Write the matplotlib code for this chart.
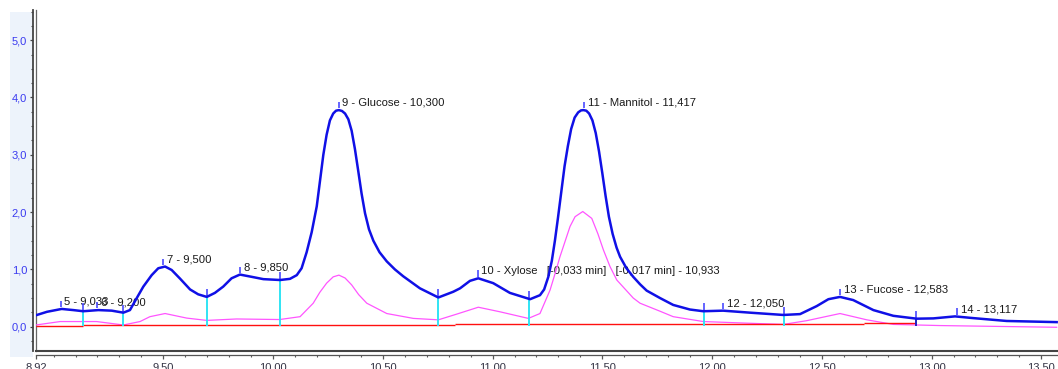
import matplotlib
matplotlib.use('Agg')
import matplotlib.pyplot as plt
import numpy as np
from matplotlib.ticker import FixedLocator, MultipleLocator, FuncFormatter
from matplotlib.patches import Rectangle

# main detector trace (blue)
blue_t = [8.92, 8.97, 9.037, 9.09, 9.135, 9.204, 9.265, 9.318, 9.348, 9.379,
          9.409, 9.447, 9.477, 9.508, 9.538, 9.576, 9.622, 9.659, 9.698, 9.735,
          9.773, 9.811, 9.849, 9.903, 9.956, 10.032, 10.077, 10.108, 10.13, 10.153,
          10.176, 10.199, 10.214, 10.229, 10.244, 10.259, 10.274, 10.287, 10.300, 10.314,
          10.328, 10.343, 10.358, 10.373, 10.388, 10.403, 10.419, 10.437, 10.457, 10.485,
          10.518, 10.555, 10.593, 10.669, 10.753, 10.821, 10.852, 10.897, 10.935, 11.003,
          11.079, 11.171, 11.216, 11.235, 11.254, 11.270, 11.284, 11.298, 11.313, 11.328,
          11.343, 11.358, 11.374, 11.390, 11.403, 11.414, 11.427, 11.440, 11.455, 11.470,
          11.485, 11.500, 11.515, 11.530, 11.547, 11.565, 11.581, 11.61, 11.641, 11.672,
          11.702, 11.763, 11.823, 11.899,
          11.96, 12.05, 12.173, 12.325, 12.401, 12.477, 12.53, 12.583, 12.643, 12.735,
          12.826, 12.932, 13.008, 13.107, 13.19, 13.342, 13.57]
blue_v = [0.20, 0.26, 0.31, 0.29, 0.27, 0.29, 0.28, 0.245, 0.29, 0.50,
          0.70, 0.90, 1.02, 1.05, 0.99, 0.84, 0.65, 0.565, 0.52, 0.59,
          0.70, 0.845, 0.91, 0.87, 0.83, 0.815, 0.835, 0.90, 1.02, 1.30,
          1.65, 2.10, 2.55, 3.00, 3.35, 3.60, 3.72, 3.77, 3.78, 3.765,
          3.72, 3.62, 3.42, 3.10, 2.72, 2.33, 1.98, 1.70, 1.50, 1.30,
          1.14, 1.00, 0.88, 0.67, 0.51, 0.61, 0.67, 0.80, 0.845, 0.76,
          0.59, 0.48, 0.55, 0.65, 0.87, 1.15, 1.50, 1.90, 2.35, 2.80,
          3.15, 3.45, 3.65, 3.74, 3.775, 3.78, 3.77, 3.72, 3.60, 3.38,
          3.06, 2.68, 2.28, 1.92, 1.62, 1.38, 1.22, 1.02, 0.87, 0.74,
          0.63, 0.50, 0.38, 0.30,
          0.27, 0.28, 0.245, 0.205, 0.22, 0.36, 0.48, 0.52, 0.465, 0.29,
          0.19, 0.14, 0.145, 0.18, 0.15, 0.10, 0.08]

# second trace (magenta)
pink_t = [8.92, 9.03, 9.196, 9.318, 9.394, 9.439, 9.508, 9.607, 9.698, 9.834,
          10.03, 10.123, 10.183, 10.213, 10.244, 10.274, 10.30, 10.328, 10.358, 10.39,
          10.427, 10.518, 10.639, 10.753,
          10.837, 10.935, 11.034, 11.163, 11.216, 11.262, 11.285, 11.307, 11.353, 11.376,
          11.411, 11.452, 11.48, 11.505, 11.535, 11.566, 11.641, 11.672, 11.763, 11.823,
          11.96, 12.173, 12.325, 12.431, 12.583, 12.705, 12.826, 13.038, 13.57]
pink_v = [0.03, 0.09, 0.09, 0.03, 0.09, 0.175, 0.23, 0.15, 0.11, 0.135,
          0.125, 0.175, 0.41, 0.60, 0.76, 0.87, 0.90, 0.85, 0.73, 0.56,
          0.41, 0.23, 0.145, 0.12,
          0.22, 0.34, 0.26, 0.145, 0.23, 0.64, 0.93, 1.22, 1.75, 1.92,
          2.01, 1.89, 1.62, 1.34, 1.05, 0.815, 0.50, 0.41, 0.27, 0.175,
          0.09, 0.06, 0.04, 0.105, 0.23, 0.12, 0.04, 0.02, -0.01]

# integration baseline segments (red)
base_start = [8.92, 9.134, 10.83, 12.69]
base_end = [9.134, 10.83, 12.69, 12.93]
base_level = [0.01, 0.03, 0.045, 0.06]

# peak boundaries
bound_t = [9.134, 9.318, 9.698, 10.032, 10.753, 11.166, 11.963, 12.327, 12.93]
bound_v = [0.27, 0.245, 0.52, 0.815, 0.51, 0.48, 0.27, 0.205, 0.14]

# peak labels
peak_t = [9.033, 9.200, 9.500, 9.850, 10.300, 10.933, 11.417, 12.050, 12.583, 13.117]
peak_v = [0.31, 0.29, 1.05, 0.91, 3.78, 0.845, 3.78, 0.28, 0.52, 0.18]
peak_labels = ['5 - 9,033', '6 - 9,200', '7 - 9,500', '8 - 9,850',
               '9 - Glucose - 10,300',
               '10 - Xylose   [-0,033 min]   [-0,017 min] - 10,933',
               '11 - Mannitol - 11,417', '12 - 12,050', '13 - Fucose - 12,583',
               '14 - 13,117']

x_major = [8.92, 9.5, 10.0, 10.5, 11.0, 11.5, 12.0, 12.5, 13.0, 13.5]

plt.rcParams['font.family'] = ['Liberation Sans', 'DejaVu Sans']

W, H = 1058, 369
fig = plt.figure(figsize=(W / 100, H / 100), dpi=100)
fig.patches.append(Rectangle((10 / W, 12 / H), 23 / W, 345 / H, transform=fig.transFigure,
                             facecolor='#edf3fb', edgecolor='none', zorder=-5))
ax = fig.add_axes([36 / W, 18 / H, (W - 36) / W, (H - 18 - 10) / H])
ax.patch.set_alpha(0)

ax.plot(pink_t, pink_v, color='#ff55ff', lw=0.9, zorder=3, solid_joinstyle='round')
ax.hlines(base_level, base_start, base_end, colors='#ff1010', lw=1.0, zorder=3)
ax.plot(blue_t, blue_v, color='#1010e6', lw=1.8, zorder=5, solid_joinstyle='round')

bound_col = ['#30e4f4'] * (len(bound_t) - 1) + ['#2020c0']
ax.vlines(bound_t, 0.02, bound_v, colors=bound_col, lw=1.4, zorder=4)
ax.vlines(bound_t, bound_v, np.array(bound_v) + 0.14, colors='#4a4aff', lw=1.2, zorder=4)

ax.vlines(peak_t, np.array(peak_v) + 0.03, np.array(peak_v) + 0.14,
          colors='#4a4aff', lw=1.2, zorder=4)
for t, v, lab in zip(peak_t, peak_v, peak_labels):
    ax.annotate(lab, (t, v + 0.125), xytext=(2.5, 0), textcoords='offset points',
                va='center', ha='left', fontsize=8.1, color='#1a1a1a', zorder=2)

ax.set_xlim(8.92, 8.92 + (W - 36) / 219.5)
ax.set_ylim(-0.424, 5.527)

for s in ['top', 'right']:
    ax.spines[s].set_visible(False)
ax.spines['left'].set_position(('outward', 2.5))
ax.spines['bottom'].set_position(('outward', 3))
ax.spines['left'].set_color('#444444')
ax.spines['bottom'].set_color('#555555')
ax.spines['left'].set_linewidth(1.3)
ax.spines['bottom'].set_linewidth(0.9)
# inner frame lines
ax.plot([0, 0], [0, 1], transform=ax.transAxes, color='#666666', lw=0.9, clip_on=False)
ax.plot([0, 1], [0, 0], transform=ax.transAxes, color='#444444', lw=1.5, clip_on=False)

ax.xaxis.set_major_locator(FixedLocator(x_major))
ax.xaxis.set_minor_locator(MultipleLocator(0.1))
ax.xaxis.set_major_formatter(FuncFormatter(lambda x, p: f'{x:.2f}'.replace('.', ',')))
ax.yaxis.set_major_locator(MultipleLocator(1.0))
ax.yaxis.set_minor_locator(MultipleLocator(0.25))
ax.yaxis.set_major_formatter(FuncFormatter(lambda y, p: f'{y:.1f}'.replace('.', ',')))

ax.tick_params(axis='x', which='major', length=3.2, width=0.9, color='#555555',
               labelsize=8, labelcolor='#333344', pad=2)
ax.tick_params(axis='x', which='minor', length=1.6, width=0.8, color='#555555')
ax.tick_params(axis='y', which='major', length=2.5, width=0.9, color='#444444',
               labelsize=8, labelcolor='#3a3af0', pad=1.5)
ax.tick_params(axis='y', which='minor', length=1.4, width=0.8, color='#444444')

fig.savefig('out.png', dpi=100)
